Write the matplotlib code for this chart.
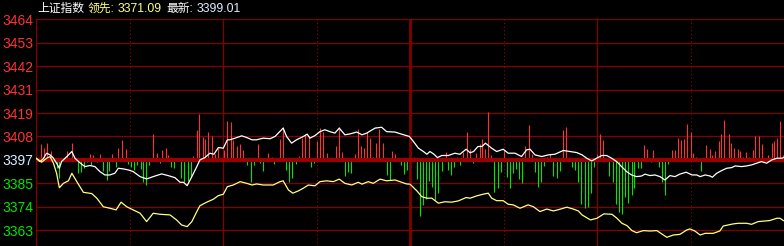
import matplotlib
matplotlib.use("Agg")
import matplotlib.pyplot as plt
import numpy as np

# ---- data (minute of session, index points) ----
PREV_CLOSE = 3397.0
STEP = 11.2
tick_labels = ["3363", "3374", "3385", "3397", "3408", "3419", "3431", "3442", "3453", "3464"]
tick_steps = [-3, -2, -1, 0, 1, 2, 3, 4, 5, 6]

price_min = [0.0, 1.3, 2.3, 3.4, 4.5, 5.5, 6.6, 7.5, 8.2, 9.9, 11.5, 12.5, 14.1, 15.7, 17.3,
             18.9, 20.5, 22.1, 23.7, 25.3, 26.4, 28.0, 29.6, 31.2, 33.4, 35.5, 37.6, 40.3,
             42.4, 44.6, 46.2, 47.3, 48.5, 50.0, 51.6, 52.6, 54.2, 55.8, 57.1, 58.5, 60.1,
             61.4, 62.2, 63.9, 66.0, 67.6, 69.3, 70.8, 72.9, 75.1, 76.7, 78.8, 79.3, 80.4,
             82.0, 83.6, 85.8, 87.0, 87.9, 89.5, 91.1, 92.7, 94.3, 95.9, 97.3, 99.1, 100.7,
             102.9, 104.6, 106.1, 108.8, 110.9, 112.5, 115.2, 117.3, 119.8, 121.1, 122.7,
             124.3, 125.4, 126.4, 127.7, 128.8, 130.2, 132.3, 134.4, 136.0, 138.0, 139.3,
             140.4, 141.8, 143.1, 144.2, 146.2, 147.8, 149.9, 151.5, 153.7, 155.8, 157.4,
             158.5, 160.1, 162.3, 164.4, 166.5, 169.2, 171.3, 173.5, 175.2, 176.7, 178.3,
             179.9, 181.5, 183.1, 184.7, 186.3, 187.9, 189.5, 191.1, 192.7, 194.3, 195.4,
             197.0, 198.6, 200.2, 201.8, 203.4, 205.0, 206.6, 208.6, 210.5, 212.0, 213.1,
             214.7, 216.3, 217.0, 218.4, 220.0, 221.6, 223.2, 224.3, 226.4, 228.0, 229.6,
             231.2, 232.8, 234.4, 236.1, 237.7, 239.3, 239.8]
price_val = [3397.8, 3396.2, 3397.5, 3400.2, 3399.4, 3398.0, 3395.4, 3393.0, 3396.2, 3398.6,
             3401.0, 3397.8, 3395.6, 3393.8, 3394.3, 3393.8, 3391.4, 3389.8, 3389.8, 3390.6,
             3393.0, 3392.7, 3392.2, 3391.4, 3389.0, 3387.9, 3389.0, 3390.3, 3389.5, 3388.5,
             3386.3, 3386.3, 3384.7, 3389.0, 3393.8, 3397.0, 3398.1, 3400.2, 3399.7, 3402.9,
             3402.6, 3406.6, 3406.6, 3407.4, 3408.5, 3407.7, 3406.6, 3406.6, 3407.4, 3407.1,
             3408.2, 3411.4, 3412.2, 3408.2, 3405.0, 3406.6, 3408.2, 3409.3, 3407.4, 3408.6,
             3410.5, 3411.4, 3410.5, 3409.8, 3412.2, 3409.0, 3409.4, 3410.3, 3409.0, 3409.8,
             3412.2, 3412.6, 3410.5, 3410.3, 3409.3, 3408.2, 3405.8, 3402.6, 3401.0, 3399.7,
             3401.0, 3399.7, 3398.1, 3399.1, 3399.1, 3400.2, 3399.7, 3402.1, 3400.4, 3401.0,
             3403.4, 3403.4, 3405.0, 3402.6, 3401.0, 3402.1, 3400.2, 3400.2, 3398.6, 3401.8,
             3402.1, 3399.4, 3398.6, 3399.4, 3399.7, 3401.5, 3401.0, 3400.5, 3399.4, 3397.8,
             3396.5, 3397.8, 3399.1, 3399.1, 3397.8, 3396.2, 3393.8, 3391.4, 3389.8, 3389.0,
             3389.3, 3390.2, 3389.5, 3389.8, 3389.0, 3387.4, 3389.5, 3389.0, 3390.2, 3391.1,
             3389.8, 3389.8, 3389.0, 3389.8, 3389.3, 3388.7, 3390.6, 3391.9, 3393.0, 3393.3,
             3394.1, 3393.8, 3394.1, 3394.6, 3395.4, 3396.2, 3395.4, 3397.0, 3397.8, 3397.8,
             3398.1]

lead_min = [0.0, 1.8, 3.4, 4.5, 5.6, 6.6, 7.5, 8.8, 10.4, 11.5, 13.1, 15.2, 17.9, 19.5, 21.6,
            23.7, 25.7, 27.3, 29.1, 31.2, 33.4, 35.5, 37.6, 39.8, 43.0, 45.1, 46.7, 48.5,
            50.0, 51.6, 52.6, 54.8, 56.9, 58.5, 60.1, 61.4, 63.3, 65.5, 67.6, 69.3, 70.8,
            72.9, 76.1, 78.3, 79.3, 81.0, 82.4, 84.2, 85.8, 87.4, 89.5, 91.1, 93.3, 95.4,
            97.3, 99.1, 101.3, 103.4, 104.6, 106.6, 108.2, 110.4, 112.5, 115.2, 117.3, 118.9,
            120.0, 122.2, 123.8, 125.4, 127.0, 129.1, 131.2, 133.4, 135.5, 138.0, 139.3,
            141.4, 143.5, 145.1, 146.2, 147.8, 149.9, 151.5, 153.1, 155.3, 157.9, 159.6,
            161.7, 163.9, 166.0, 168.1, 170.3, 172.4, 174.0, 175.2, 177.9, 180.0, 182.2,
            184.8, 186.4, 188.0, 189.6, 191.2, 192.7, 194.9, 197.0, 199.2, 201.3, 202.4,
            204.5, 206.6, 208.8, 209.8, 211.4, 213.1, 214.7, 217.3, 219.4, 220.5, 222.1,
            223.7, 225.3, 228.0, 229.6, 231.7, 233.9, 235.4, 237.7, 238.7, 239.8]
lead_val = [3397.8, 3395.9, 3397.8, 3398.6, 3395.4, 3390.6, 3383.7, 3385.8, 3387.0, 3390.6,
            3386.6, 3381.5, 3380.9, 3378.7, 3374.6, 3373.9, 3373.1, 3376.8, 3374.6, 3373.1,
            3371.5, 3367.5, 3371.5, 3371.0, 3370.7, 3368.3, 3365.9, 3365.1, 3367.5, 3372.3,
            3375.1, 3376.8, 3378.2, 3379.9, 3380.6, 3384.2, 3385.0, 3386.6, 3385.8, 3385.0,
            3385.5, 3385.0, 3385.0, 3386.6, 3387.0, 3382.6, 3381.1, 3382.2, 3383.5, 3385.0,
            3384.6, 3386.6, 3387.0, 3386.6, 3387.8, 3385.8, 3385.0, 3386.3, 3385.4, 3386.6,
            3385.8, 3387.8, 3387.0, 3387.4, 3386.3, 3385.5, 3385.4, 3382.2, 3379.4, 3378.7,
            3378.7, 3376.3, 3377.0, 3376.8, 3377.4, 3379.0, 3378.7, 3379.8, 3380.6, 3381.1,
            3378.7, 3377.5, 3377.5, 3375.8, 3375.5, 3373.9, 3375.5, 3374.6, 3372.3, 3373.5,
            3372.6, 3373.4, 3374.4, 3373.5, 3372.6, 3370.7, 3368.3, 3369.1, 3371.2, 3371.0,
            3369.1, 3366.7, 3365.6, 3363.2, 3362.2, 3363.2, 3363.0, 3363.2, 3361.1, 3360.0,
            3361.1, 3361.4, 3363.5, 3364.0, 3363.0, 3361.1, 3361.9, 3361.9, 3363.0, 3365.4,
            3365.9, 3366.4, 3366.7, 3366.7, 3366.2, 3367.5, 3367.8, 3368.0, 3369.1, 3369.1,
            3368.0]

# red/green force bars: minute and height (index points from the baseline)
bar_min = [1.7, 2.7, 3.6, 4.7, 9.9, 11.6, 17.3, 18.4, 20.6, 24.5, 26.4, 27.5, 28.8, 37.6,
           38.7, 40.5, 41.6, 42.4, 45.3, 50.5, 51.6, 52.4, 53.5, 54.3, 55.3, 56.4, 57.4,
           58.5, 60.4, 61.4, 62.5, 63.3, 64.4, 65.5, 66.5, 71.3, 74.5, 75.6, 78.3, 79.3,
           84.5, 85.4, 86.4, 87.5, 90.3, 91.2, 92.2, 93.5, 96.4, 97.3, 98.3, 102.5, 103.4,
           104.4, 105.4, 106.3, 107.3, 108.2, 109.2, 110.2, 111.4, 114.3, 115.3, 121.4,
           131.5, 135.1, 137.1, 138.2, 139.2, 141.2, 142.3, 143.2, 144.2, 145.1, 146.1,
           150.3, 157.0, 158.3, 159.2, 164.0, 165.0, 169.2, 170.1, 171.1, 180.1, 181.0,
           182.0, 195.2, 196.1, 198.1, 199.0, 204.2, 205.1, 206.1, 207.1, 208.0, 209.0,
           210.0, 210.9, 211.9, 215.1, 216.1, 217.0, 218.0, 219.0, 219.9, 220.9, 222.2,
           223.1, 224.1, 225.1, 226.0, 227.0, 227.9, 228.9, 229.9, 230.8, 232.1, 233.1,
           234.0, 235.0, 236.0, 236.9, 237.9, 238.8, 239.8,
           6.6, 7.5, 13.6, 14.4, 15.4, 16.5, 17.6, 19.5, 21.6, 22.7, 23.5, 25.6, 29.6, 30.5,
           31.4, 32.5, 33.6, 34.4, 35.3, 36.4, 39.8, 43.3, 44.4, 46.5, 47.6, 48.7, 49.6,
           67.6, 68.9, 69.9, 71.9, 72.7, 76.5, 80.3, 81.3, 82.2, 83.5, 88.3, 89.3, 94.4,
           95.4, 99.2, 100.2, 101.2, 112.5, 113.5, 116.4, 117.2, 118.2, 119.1, 122.3, 123.3,
           124.3, 125.2, 126.2, 127.2, 128.1, 129.1, 130.4, 132.3, 133.3, 134.2, 136.1,
           140.3, 147.1, 148.3, 149.3, 151.2, 152.2, 153.1, 154.1, 155.1, 156.0, 160.2,
           161.2, 162.1, 163.1, 166.0, 167.3, 168.2, 172.1, 173.1, 174.0, 174.9, 176.2,
           177.2, 178.2, 179.1, 183.9, 185.2, 186.2, 187.1, 188.1, 189.1, 190.1, 191.1,
           192.0, 193.0, 194.0, 197.2, 200.0, 201.0, 201.9, 202.9, 213.3]
bar_val = [7.7, 5.9, 8.3, 4.3, 4.3, 8.3, 2.7, 2.4, 2.9, 2.7, 5.6, 9.6, 5.3, 12.3, 3.2, 4.8,
           5.6, 2.4, 0.8, 1.9, 14.4, 22.0, 10.9, 10.1, 13.5, 11.2, 2.7, 5.6, 4.8, 18.7, 18.3,
           9.6, 6.4, 7.5, 4.8, 7.7, 3.5, 1.6, 10.1, 15.5, 1.9, 10.7, 12.3, 11.5, 9.2, 15.2,
           13.3, 3.5, 6.7, 15.8, 4.0, 2.9, 14.8, 6.7, 5.6, 13.3, 10.7, 1.6, 8.3, 14.8, 8.3,
           4.3, 2.9, 1.6, 3.7, 1.6, 4.0, 13.1, 5.1, 3.5, 7.7, 10.1, 5.1, 23.1, 2.4, 4.8, 6.4,
           16.8, 2.7, 1.6, 2.9, 14.4, 15.9, 1.6, 2.7, 12.4, 9.6, 7.2, 5.3, 4.8, 0.5, 4.8, 4.8,
           10.7, 9.6, 10.1, 17.2, 13.3, 3.2, 1.6, 7.2, 5.3, 2.1, 4.3, 9.1, 12.4, 19.1, 12.4,
           8.0, 5.9, 5.3, 4.3, 1.6, 3.7, 1.6, 4.8, 11.2, 11.5, 7.5, 0.8, 2.4, 8.3, 9.1, 10.7,
           18.7, 2.4,
           -4.0, -8.8, -6.1, -5.6, -4.0, -1.0, -2.4, -0.8, -5.1, -9.4, -5.1, -3.2, -2.1,
           -3.2, -4.8, -2.4, -4.3, -10.4, -12.0, -2.4, -1.6, -3.2, -4.0, -8.8, -10.4, -10.1,
           -8.0, -2.4, -10.6, -2.4, -1.6, -5.3, -1.9, -4.8, -10.7, -8.5, -1.8, -3.2, -1.6,
           -0.5, -0.5, -7.5, -5.6, -6.1, -7.2, -9.6, -0.5, -2.4, -6.6, -4.8, -9.1, -26.7,
           -21.5, -18.8, -10.1, -12.8, -19.1, -15.9, -5.3, -4.8, -7.2, -3.2, -2.4, -1.6,
           -15.5, -13.3, -5.6, -8.0, -13.5, -6.4, -4.5, -9.1, -11.2, -5.6, -12.8, -10.4,
           -2.7, -7.5, -8.5, -5.1, -3.2, -4.8, -10.4, -21.1, -22.8, -22.4, -15.9, -3.2,
           -7.5, -10.4, -21.1, -24.7, -25.8, -17.6, -20.4, -16.8, -13.3, -3.7, -3.7, -1.1,
           -3.2, -10.7, -16.8, -1.9, -5.1]

# ---- colours ----
BG = "#000000"
GRID = "#840000"
RED = "#ff3232"
GREEN = "#00e600"

W, H = 784, 246
fig = plt.figure(figsize=(W / 100, H / 100), dpi=100, facecolor=BG)
ax = fig.add_axes([36 / W, 0.0, 1 - 36 / W, 1 - 19.3 / H], facecolor=BG)

ax.set_xlim(0, 240)
ax.set_ylim(PREV_CLOSE - 3.675 * STEP, PREV_CLOSE + 6 * STEP)

levels = [PREV_CLOSE + k * STEP for k in tick_steps]
for lv in levels:
    if lv != PREV_CLOSE:
        ax.axhline(lv, color=GRID, lw=0.9, zorder=1)

# vertical session grid
for m in (30, 90, 150, 210):
    ax.axvline(m, color="#a00000", lw=0.75, ls=(0, (1, 2.5)), zorder=1)
for m in (60, 180):
    ax.axvline(m, color=GRID, lw=0.9, zorder=1)
ax.axvline(120, color=GRID, lw=2.0, zorder=1)
ax.axvline(0, color=GRID, lw=1.0, zorder=1)

bar_min = np.array(bar_min)
bar_val = np.array(bar_val)
up = bar_val > 0
ax.vlines(bar_min[up], PREV_CLOSE, PREV_CLOSE + bar_val[up], color=RED, lw=0.8, zorder=2)
ax.vlines(bar_min[~up], PREV_CLOSE, PREV_CLOSE + bar_val[~up], color=GREEN, lw=0.8, zorder=2)

ax.axhline(PREV_CLOSE, color="#990000", lw=3.0, zorder=3)

ax.plot(price_min, price_val, color="#ffffff", lw=0.9, zorder=4)
ax.plot(lead_min, lead_val, color="#ffff80", lw=0.9, zorder=5)

ax.set_yticks(levels)
ax.set_yticklabels(tick_labels, fontfamily="Liberation Sans", fontsize=10)
for lab, k in zip(ax.get_yticklabels(), tick_steps):
    lab.set_color(RED if k > 0 else (GREEN if k < 0 else "#d8ecff"))
ax.tick_params(axis="y", length=0, pad=2)
ax.set_xticks([])
for s in ax.spines.values():
    s.set_visible(False)

# header line
fam = ["Liberation Sans", "Noto Sans CJK SC"]
ty = 1 - 9 / H
fig.text(37 / W, ty, "上证指数", color="#ffffff", fontsize=8.5, family=fam, va="center")
fig.text(88 / W, ty, "领先:", color="#ffff80", fontsize=8.5, family=fam, va="center")
fig.text(118 / W, ty, "3371.09", color="#ffff80", fontsize=8.8, family=fam, va="center")
fig.text(166.5 / W, ty, "最新:", color="#ffffff", fontsize=8.5, family=fam, va="center")
fig.text(197 / W, ty, "3399.01", color="#e0eeff", fontsize=8.8, family=fam, va="center")

fig.savefig("out.png", dpi=100, facecolor=BG)
